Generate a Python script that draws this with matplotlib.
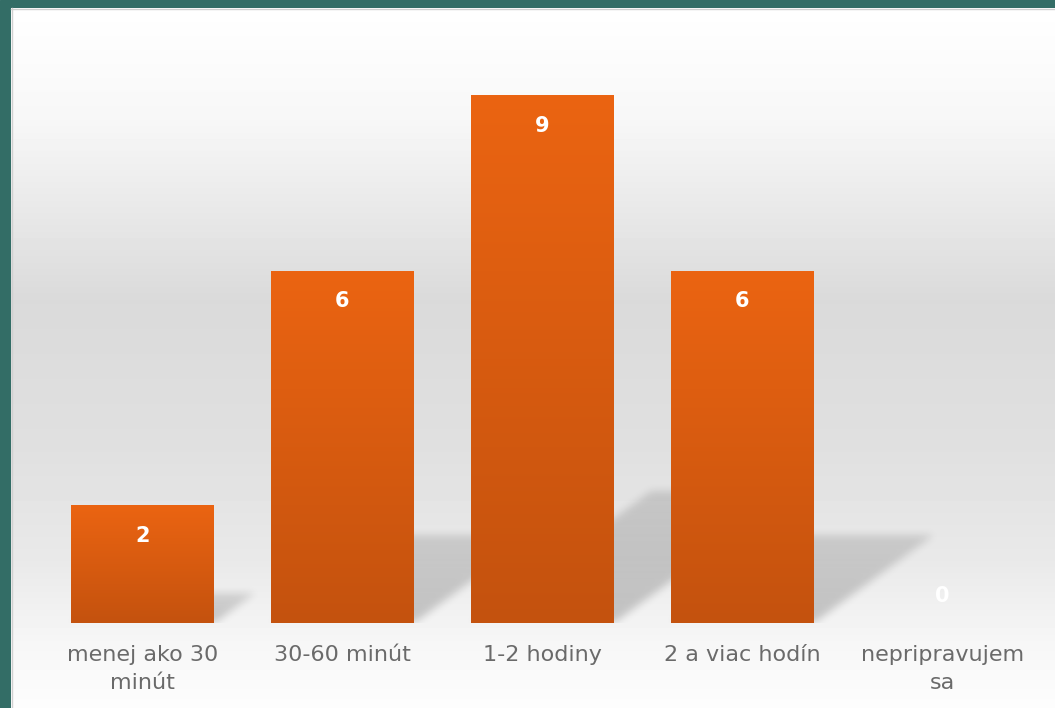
import numpy as np
import matplotlib.pyplot as plt
from matplotlib.path import Path
from matplotlib.colors import LinearSegmentedColormap

categories = ['menej ako 30\nminút', '30-60 minút', '1-2 hodiny', '2 a viac hodín', 'nepripravujem\nsa']
values = [2, 6, 9, 6, 0]

fig = plt.figure(figsize=(10.55, 7.08), dpi=100)

# background: teal frame + grey vertical gradient panel
bg = fig.add_axes([0, 0, 1, 1], zorder=-2)
bg.set_xlim(0, 1055)
bg.set_ylim(708, 0)
bg.axis('off')
bg.add_patch(plt.Rectangle((0, 0), 1055, 708, color='#336d66', zorder=0))
stops_y = [8, 120, 300, 450, 560, 640, 708]
stops_c = [255, 247, 218, 224, 233, 246, 253]
yy = np.arange(8, 708)
col = np.interp(yy, stops_y, stops_c) / 255.0
grad = np.repeat(col[:, None], 4, axis=1)
bg.imshow(grad, cmap='gray', vmin=0, vmax=1, extent=(11, 1055, 708, 8),
          aspect='auto', interpolation='nearest', zorder=1)
bg.plot([11, 1055], [8.5, 8.5], color='#d0d0d0', lw=1, zorder=2)
bg.plot([11.5, 11.5], [8, 708], color='#d0d0d0', lw=1, zorder=2)

ax = fig.add_axes([42.5 / 1055, 85 / 708, 1000 / 1055, 586 / 708])
ax.set_facecolor('none')
x = np.arange(len(categories))
width = 0.715
bars = ax.bar(x, values, width=width, color='#d85b10', zorder=3)

# soft perspective shadows behind the bars
nx, ny = 1000, 586
gx = np.linspace(-0.5, 4.5, nx)
gy = np.linspace(0, 10, ny)
GX, GY = np.meshgrid(gx, gy)
pts = np.column_stack([GX.ravel(), GY.ravel()])
shade = np.zeros(GX.shape)
for rect, v in zip(bars, values):
    if v <= 0:
        continue
    xl = rect.get_x()
    xr = xl + rect.get_width()
    dx = 0.1 * v
    dy = 0.25 * v
    poly = Path([(xl, 0), (xr, 0), (xr + dx, dy), (xl + dx, dy), (xl, 0)])
    m = poly.contains_points(pts).reshape(GX.shape).astype(float)
    fade = 1 - 0.35 * np.clip(GY / dy, 0, 1)
    shade = np.maximum(shade, m * fade)
sig = 4
k = np.exp(-0.5 * (np.arange(-12, 13) / sig) ** 2)
k /= k.sum()
shade = np.apply_along_axis(lambda r: np.convolve(r, k, mode='same'), 1, shade)
shade = np.apply_along_axis(lambda c: np.convolve(c, k, mode='same'), 0, shade)
rgba = np.zeros((ny, nx, 4))
rgba[..., 3] = shade * 0.2
ax.imshow(rgba, extent=(-0.5, 4.5, 0, 10), origin='lower', aspect='auto', zorder=2)

# orange vertical gradient on each bar
orange = LinearSegmentedColormap.from_list('or', ['#c4520e', '#eb6412'])
g = np.linspace(0, 1, 256)[:, None]
for rect in bars:
    h = rect.get_height()
    if h <= 0:
        continue
    ax.imshow(g, cmap=orange, origin='lower', aspect='auto', zorder=4,
              extent=(rect.get_x(), rect.get_x() + rect.get_width(), 0, h))

for xi, v in zip(x, values):
    off = -30 if v > 0 else 27
    ax.annotate(str(v), (xi, v), xytext=(0, off), textcoords='offset pixels',
                ha='center', va='center', color='white', fontsize=15,
                fontweight='bold', zorder=5)

ax.set_xlim(-0.5, 4.5)
ax.set_ylim(0, 10)
ax.set_xticks(x)
ax.set_xticklabels(categories, color='#6a6a6a', fontsize=16, linespacing=1.5)
ax.tick_params(axis='x', length=0, pad=16)
ax.set_yticks([])
for s in ax.spines.values():
    s.set_visible(False)

fig.savefig('out.png', dpi=100)
